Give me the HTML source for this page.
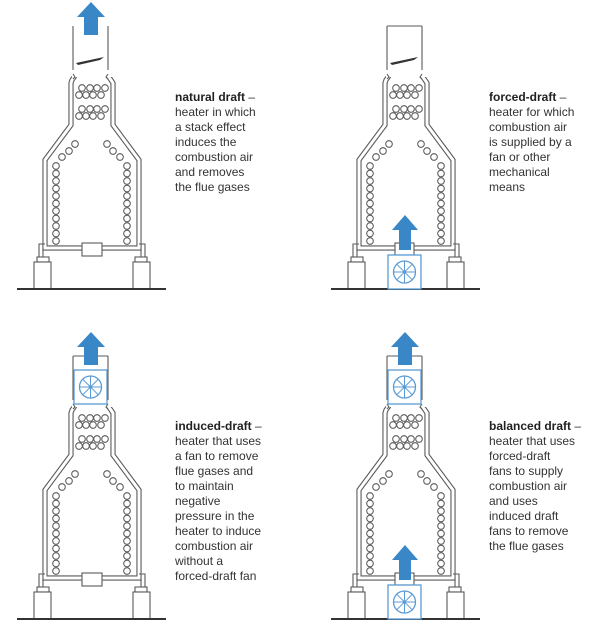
<!DOCTYPE html>
<html><head><meta charset="utf-8"><style>
html,body{margin:0;padding:0;background:#fff;}
body{width:600px;height:632px;position:relative;overflow:hidden;font-family:"Liberation Sans",Arial,sans-serif;}
.t{position:absolute;font-size:12px;line-height:15px;color:#333;width:110px;}
.t b{color:#222;}
</style></head><body>
<svg width="600" height="632" style="position:absolute;left:0;top:0">
<defs>
<g id="body">
  <path d="M73,26 V74 M108,26 V74" stroke="#5a5a5a" stroke-width="1.1" fill="none"/>
  <path d="M75,76 L72,80 L71,83 V125 L45,160 V248 H139 V160 L113,125 V83 L111,80 L108,76" stroke="#5a5a5a" stroke-width="5.2" fill="none" stroke-linejoin="miter"/>
  <path d="M75,76 L72,80 L71,83 V125 L45,160 V248 H139 V160 L113,125 V83 L111,80 L108,76" stroke="#fff" stroke-width="3" fill="none" stroke-linejoin="miter"/>
  <rect x="72" y="70" width="40" height="7" fill="#fff"/>
  <path d="M73,74 L75,77 L73,79 M108,74 L106,77 L108,79" stroke="#5a5a5a" stroke-width="1.1" fill="none"/>
  <path d="M39,258 V244 H45 M43,258 V248 M145,258 V244 H139 M141,258 V248" stroke="#5a5a5a" stroke-width="1.1" fill="none"/>
  <rect x="37" y="257" width="12" height="5" fill="#fff" stroke="#5a5a5a" stroke-width="1.1"/>
  <rect x="135" y="257" width="12" height="5" fill="#fff" stroke="#5a5a5a" stroke-width="1.1"/>
  <rect x="34" y="262" width="17" height="27" fill="#fff" stroke="#5a5a5a" stroke-width="1.1"/>
  <rect x="133" y="262" width="17" height="27" fill="#fff" stroke="#5a5a5a" stroke-width="1.1"/>
  <line x1="17" y1="289" x2="166" y2="289" stroke="#333" stroke-width="2"/>
  <g fill="none" stroke="#5a5a5a" stroke-width="1.05">
    <circle cx="82" cy="88" r="3.3"/><circle cx="90" cy="88" r="3.3"/><circle cx="97" cy="88" r="3.3"/><circle cx="105" cy="88" r="3.3"/>
    <circle cx="79" cy="95" r="3.3"/><circle cx="86" cy="95" r="3.3"/><circle cx="93" cy="95" r="3.3"/><circle cx="101" cy="95" r="3.3"/>
    <circle cx="82" cy="109" r="3.3"/><circle cx="90" cy="109" r="3.3"/><circle cx="97" cy="109" r="3.3"/><circle cx="105" cy="109" r="3.3"/>
    <circle cx="79" cy="116" r="3.3"/><circle cx="86" cy="116" r="3.3"/><circle cx="93" cy="116" r="3.3"/><circle cx="101" cy="116" r="3.3"/>
    <circle cx="75" cy="144" r="3.3"/><circle cx="69" cy="151" r="3.3"/><circle cx="62" cy="157" r="3.3"/>
    <circle cx="107" cy="144" r="3.3"/><circle cx="113" cy="151" r="3.3"/><circle cx="120" cy="157" r="3.3"/>
    <circle cx="56" cy="166" r="3.3"/><circle cx="56" cy="173.5" r="3.3"/><circle cx="56" cy="181" r="3.3"/><circle cx="56" cy="188.5" r="3.3"/><circle cx="56" cy="196" r="3.3"/><circle cx="56" cy="203.5" r="3.3"/><circle cx="56" cy="211" r="3.3"/><circle cx="56" cy="218.5" r="3.3"/><circle cx="56" cy="226" r="3.3"/><circle cx="56" cy="233.5" r="3.3"/><circle cx="56" cy="241" r="3.3"/>
    <circle cx="127" cy="166" r="3.3"/><circle cx="127" cy="173.5" r="3.3"/><circle cx="127" cy="181" r="3.3"/><circle cx="127" cy="188.5" r="3.3"/><circle cx="127" cy="196" r="3.3"/><circle cx="127" cy="203.5" r="3.3"/><circle cx="127" cy="211" r="3.3"/><circle cx="127" cy="218.5" r="3.3"/><circle cx="127" cy="226" r="3.3"/><circle cx="127" cy="233.5" r="3.3"/><circle cx="127" cy="241" r="3.3"/>
  </g>
</g>
<g id="midbox"><rect x="82" y="243" width="20" height="13" fill="#fff" stroke="#5a5a5a" stroke-width="1.1"/></g>
<g id="damper"><path d="M76,63 L104,57 L100,60 L78,65 Z" fill="#333"/></g>
<g id="arrowT"><path d="M77,17 L91,2 L105,17 L98,17 V35 H84 V17 Z" fill="#3a87c8"/></g>
<g id="fan">
  <rect x="0" y="0" width="33" height="34" fill="#fff" stroke="#5b9bd5" stroke-width="1.3"/>
  <circle cx="16.5" cy="17" r="11" fill="none" stroke="#5b9bd5" stroke-width="1.3"/>
  <path d="M5.5,17 H27.5 M16.5,6 V28 M8.7,9.2 L24.3,24.8 M24.3,9.2 L8.7,24.8" stroke="#5b9bd5" stroke-width="1"/>
  <circle cx="16.5" cy="17" r="1.8" fill="#5b9bd5"/>
</g>
</defs>

<use href="#body"/><use href="#midbox"/><use href="#damper"/><use href="#arrowT"/>

<g transform="translate(314,0)">
  <use href="#body"/><use href="#damper"/>
  <line x1="73" y1="26" x2="108" y2="26" stroke="#5a5a5a" stroke-width="1.1"/>
  <rect x="81" y="243" width="19" height="12" fill="#fff" stroke="#5a5a5a" stroke-width="1.1"/>
  <use href="#fan" transform="translate(74,255)"/>
  <path d="M78,230 L91,215 L104,230 L97,230 V250 H85 V230 Z" fill="#3a87c8"/>
</g>

<g transform="translate(0,330)">
  <use href="#body"/><use href="#midbox"/>
  <line x1="73" y1="26" x2="108" y2="26" stroke="#5a5a5a" stroke-width="1.1"/>
  <use href="#fan" transform="translate(74,40)"/>
  <use href="#arrowT"/>
</g>

<g transform="translate(314,330)">
  <use href="#body"/>
  <line x1="73" y1="26" x2="108" y2="26" stroke="#5a5a5a" stroke-width="1.1"/>
  <use href="#fan" transform="translate(74,40)"/>
  <use href="#arrowT"/>
  <rect x="81" y="243" width="19" height="12" fill="#fff" stroke="#5a5a5a" stroke-width="1.1"/>
  <use href="#fan" transform="translate(74,255)"/>
  <path d="M78,230 L91,215 L104,230 L97,230 V250 H85 V230 Z" fill="#3a87c8"/>
</g>
</svg>

<div class="t" style="left:175px;top:90px"><b>natural draft</b> –<br>heater in which<br>a stack effect<br>induces the<br>combustion air<br>and removes<br>the flue gases</div>
<div class="t" style="left:489px;top:90px"><b>forced-draft</b> –<br>heater for which<br>combustion air<br>is supplied by a<br>fan or other<br>mechanical<br>means</div>
<div class="t" style="left:175px;top:419px"><b>induced-draft</b> –<br>heater that uses<br>a fan to remove<br>flue gases and<br>to maintain<br>negative<br>pressure in the<br>heater to induce<br>combustion air<br>without a<br>forced-draft fan</div>
<div class="t" style="left:489px;top:419px"><b>balanced draft</b> –<br>heater that uses<br>forced-draft<br>fans to supply<br>combustion air<br>and uses<br>induced draft<br>fans to remove<br>the flue gases</div>
</body></html>
